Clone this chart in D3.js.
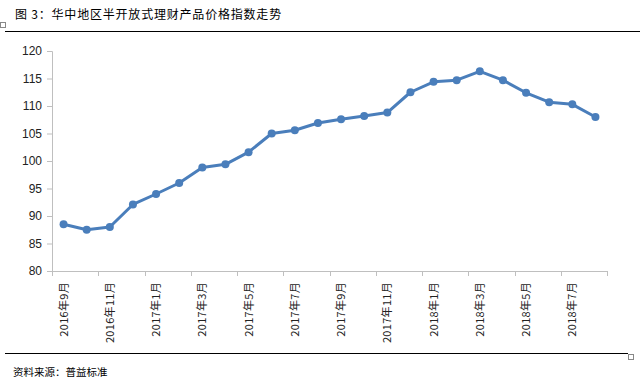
<!DOCTYPE html>
<html><head><meta charset="utf-8">
<script src="https://cdn.jsdelivr.net/npm/d3@7"></script>
<style>body{margin:0;background:#fff;}svg{display:block;}</style>
</head><body>
<svg id="c" width="640" height="392"></svg>
<script>
const categories = ["2016年9月","2016年10月","2016年11月","2016年12月","2017年1月","2017年2月","2017年3月","2017年4月","2017年5月","2017年6月","2017年7月","2017年8月","2017年9月","2017年10月","2017年11月","2017年12月","2018年1月","2018年2月","2018年3月","2018年4月","2018年5月","2018年6月","2018年7月","2018年8月"];
const values = [88.5,87.5,88.0,92.1,94.0,96.0,98.8,99.4,101.6,105.0,105.6,106.9,107.6,108.2,108.8,112.5,114.4,114.7,116.3,114.7,112.4,110.7,110.3,108.0];
const yTicks = [80,85,90,95,100,105,110,115,120];
const title = "图 3：华中地区半开放式理财产品价格指数走势";
const source = "资料来源：普益标准";

const svg = d3.select("#c");
const L = 52, R = 607, T = 51, B = 271;
const x = d3.scaleBand().domain(categories).range([L, R]);
const y = d3.scaleLinear().domain([80, 120]).range([B, T]);
const font = "'Noto Sans CJK SC', 'Liberation Sans', sans-serif";

// title
svg.append("text").attr("x", 15).attr("y", 19).attr("font-family", font)
  .attr("font-size", 12).attr("letter-spacing", 0.8).attr("fill", "#000").text(title);
svg.append("line").attr("x1", 5).attr("x2", 640).attr("y1", 31.5).attr("y2", 31.5)
  .attr("stroke", "#000").attr("stroke-width", 1.2);
svg.append("rect").attr("x", 0.5).attr("y", 22.5).attr("width", 5).attr("height", 5)
  .attr("fill", "none").attr("stroke", "#888");

// y axis
const yAxis = d3.axisLeft(y).tickValues(yTicks).tickSize(5).tickPadding(5).tickFormat(d3.format("d"));
const gy = svg.append("g").attr("transform", `translate(${L},0)`).call(yAxis);
gy.select(".domain").attr("stroke", "#bfbfbf").attr("d", `M-5,${T+0.5}H0.5V${B+0.5}`);
gy.selectAll(".tick line").attr("stroke", "#bfbfbf");
gy.selectAll(".tick text").attr("font-family", "'Liberation Sans', Arial, sans-serif")
  .attr("font-size", 12).attr("fill", "#222");

// x axis
const gx = svg.append("g").attr("transform", `translate(0,${B})`);
gx.append("line").attr("x1", L).attr("x2", R).attr("y1", 0.5).attr("y2", 0.5).attr("stroke", "#bfbfbf");
const tickCats = categories.filter((d, i) => i % 2 === 0);
gx.selectAll(".xt").data(tickCats.concat(["__end"])).join("line")
  .attr("x1", d => Math.round(d === "__end" ? R : x(d)) + 0.5)
  .attr("x2", d => Math.round(d === "__end" ? R : x(d)) + 0.5)
  .attr("y1", 0).attr("y2", 5).attr("stroke", "#bfbfbf");
gx.selectAll(".xl").data(tickCats).join("text")
  .attr("transform", d => `translate(${x(d) + x.bandwidth() / 2 + 4},${11}) rotate(-90)`)
  .attr("text-anchor", "end").attr("font-family", font).attr("font-size", 11)
  .attr("letter-spacing", 0.3).attr("fill", "#222").text(d => d);

// line
const line = d3.line().x((d, i) => x(categories[i]) + x.bandwidth() / 2).y(d => y(d));
svg.append("path").datum(values).attr("d", line).attr("fill", "none")
  .attr("stroke", "#4a7ebb").attr("stroke-width", 3).attr("stroke-linejoin", "round");
svg.selectAll(".pt").data(values).join("circle")
  .attr("cx", (d, i) => x(categories[i]) + x.bandwidth() / 2).attr("cy", d => y(d))
  .attr("r", 4).attr("fill", "#4a7ebb");

// bottom rule and source
svg.append("line").attr("x1", 5).attr("x2", 628).attr("y1", 353.5).attr("y2", 353.5)
  .attr("stroke", "#000").attr("stroke-width", 1.2);
svg.append("rect").attr("x", 628.5).attr("y", 354.5).attr("width", 5).attr("height", 5)
  .attr("fill", "none").attr("stroke", "#888");
svg.append("text").attr("x", 13).attr("y", 376).attr("font-family", font)
  .attr("font-size", 10.5).attr("fill", "#000").text(source);
</script>
</body></html>
